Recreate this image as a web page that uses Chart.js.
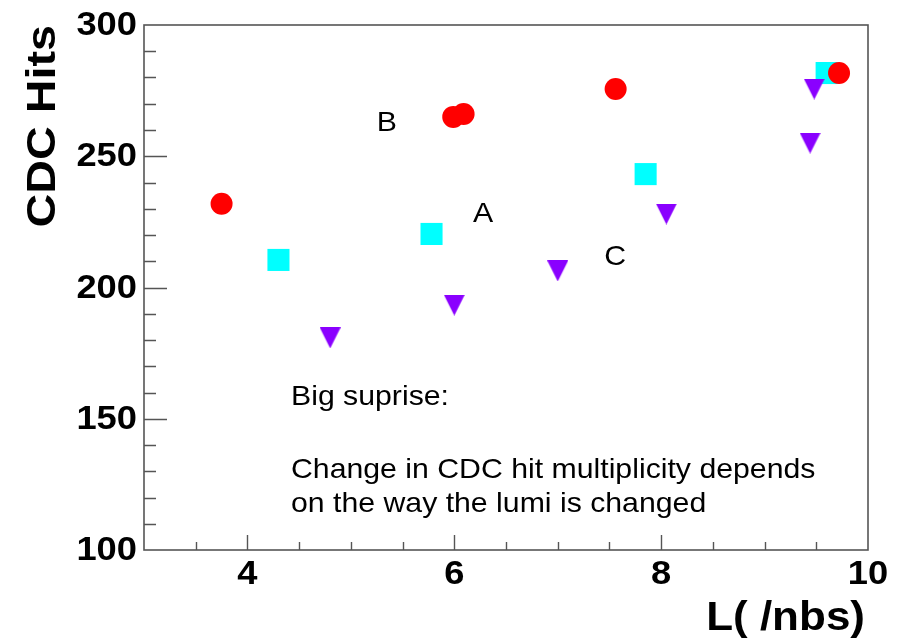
<!DOCTYPE html>
<html>
<head>
<meta charset="utf-8">
<script src="https://cdn.jsdelivr.net/npm/chart.js@4/dist/chart.umd.min.js"></script>
<style>
  html, body { margin: 0; padding: 0; background: #ffffff; }
  #wrap { width: 905px; height: 641px; }
</style>
</head>
<body>
<div id="wrap"><canvas id="c" width="905" height="641"></canvas></div>
<script>
// Luminosity (/nbs) and CDC hit counts for the three ways of changing the lumi
const lumiA = [4.30, 5.78, 7.85, 9.60];
const hitsA = [210.5, 220.4, 243.2, 281.7];

const lumiB = [3.75, 5.99, 6.09, 7.56, 9.72];
const hitsB = [231.9, 265.0, 266.1, 275.6, 281.7];

const lumiC = [4.80, 6.00, 7.00, 8.05, 9.44, 9.48];
const hitsC = [180.8, 193.3, 206.3, 228.0, 255.0, 275.6];

// Axis ranges and labelled ticks
const xRange = [3, 10];
const yRange = [100, 300];
const xMajorTicks = [4, 6, 8, 10];
const yMajorTicks = [100, 150, 200, 250, 300];
const xMinorStep = 0.5;
const yMinorStep = 10;

// Axis titles
const xTitle = 'L( /nbs)';
const yTitle = 'CDC Hits';

// Series tags placed next to their points (data coordinates of the text baseline start)
const tagText = ['A', 'B', 'C'];
const tagX = [6.18, 5.25, 7.45];
const tagY = [225.0, 259.6, 208.6];

// Note block
const noteLines = ['Big suprise:', '', 'Change in CDC hit multiplicity depends', 'on the way the lumi is changed'];

const FONT = '"Liberation Sans", Arial, Helvetica, sans-serif';
const TEXT_SX = 1.1;    // horizontal widening of axis lettering
const NOTE_SX = 1.08;   // horizontal widening of annotation lettering
const FRAME_COLOR = '#555555';

function toPoints(xs, ys) { return xs.map((x, i) => ({ x: x, y: ys[i] })); }

// Downward triangle marker, as tall as it is wide
function triangleMarker(size, color) {
  const cv = document.createElement('canvas');
  cv.width = size; cv.height = size;
  const g = cv.getContext('2d');
  g.fillStyle = color;
  g.beginPath();
  g.moveTo(0, 0);
  g.lineTo(size, 0);
  g.lineTo(size / 2, size);
  g.closePath();
  g.fill();
  return cv;
}

function drawText(ctx, text, x, y, font, align, baseline, rot, sx) {
  ctx.save();
  ctx.translate(x, y);
  if (rot) ctx.rotate(rot);
  ctx.scale(sx, 1);
  ctx.font = font;
  ctx.fillStyle = '#000000';
  ctx.textAlign = align;
  ctx.textBaseline = baseline;
  ctx.fillText(text, 0, 0);
  ctx.restore();
}

const framePlugin = {
  id: 'frameAxes',
  beforeDatasetsDraw(chart) {
    const ctx = chart.ctx;
    const a = chart.chartArea;
    const xs = chart.scales.x, ys = chart.scales.y;
    ctx.save();
    ctx.strokeStyle = FRAME_COLOR;
    ctx.lineWidth = 1.6;
    ctx.strokeRect(a.left, a.top, a.right - a.left, a.bottom - a.top);

    ctx.lineWidth = 1.4;
    ctx.beginPath();
    // x ticks along the bottom edge, pointing inward
    for (let v = xRange[0] + xMinorStep; v < xRange[1] - 1e-9; v += xMinorStep) {
      const px = Math.round(xs.getPixelForValue(v)) + 0.5;
      const major = xMajorTicks.some(t => Math.abs(t - v) < 1e-6);
      ctx.moveTo(px, a.bottom);
      ctx.lineTo(px, a.bottom - (major ? 15 : 8));
    }
    // y ticks along the left edge, pointing inward
    for (let v = yRange[0] + yMinorStep; v < yRange[1] - 1e-9; v += yMinorStep) {
      const py = Math.round(ys.getPixelForValue(v)) + 0.5;
      const major = yMajorTicks.some(t => Math.abs(t - v) < 1e-6);
      ctx.moveTo(a.left, py);
      ctx.lineTo(a.left + (major ? 23 : 12), py);
    }
    ctx.stroke();
    ctx.restore();

    const tickFont = 'bold 33px ' + FONT;
    xMajorTicks.forEach(t => {
      drawText(ctx, String(t), xs.getPixelForValue(t), a.bottom + 25, tickFont, 'center', 'middle', 0, TEXT_SX);
    });
    yMajorTicks.forEach(t => {
      drawText(ctx, String(t), a.left - 7, ys.getPixelForValue(t) + 1, tickFont, 'right', 'middle', 0, TEXT_SX);
    });

    drawText(ctx, xTitle, a.right - 3, a.bottom + 80, 'bold 40px ' + FONT, 'right', 'alphabetic', 0, TEXT_SX);
    drawText(ctx, yTitle, 55, a.top, 'bold 41px ' + FONT, 'right', 'alphabetic', -Math.PI / 2, 1.14);
  },
  afterDatasetsDraw(chart) {
    const ctx = chart.ctx;
    const xs = chart.scales.x, ys = chart.scales.y;
    const noteFont = '28px ' + FONT;
    tagText.forEach((t, i) => {
      drawText(ctx, t, xs.getPixelForValue(tagX[i]), ys.getPixelForValue(tagY[i]), noteFont, 'left', 'alphabetic', 0, NOTE_SX);
    });
    const noteLeft = 291, noteBaselines = [405, 444, 478, 512];
    noteLines.forEach((line, i) => {
      if (line) drawText(ctx, line, noteLeft, noteBaselines[i], noteFont, 'left', 'alphabetic', 0, NOTE_SX);
    });
  }
};

const chart = new Chart(document.getElementById('c'), {
  type: 'scatter',
  data: {
    datasets: [
      {
        label: 'C',
        data: toPoints(lumiC, hitsC),
        pointStyle: triangleMarker(21, '#8a00ff'),
        backgroundColor: '#8a00ff',
        borderWidth: 0
      },
      {
        label: 'B',
        data: toPoints(lumiB, hitsB),
        pointStyle: 'circle',
        pointRadius: 11,
        backgroundColor: '#ff0000',
        borderWidth: 0
      },
      {
        label: 'A',
        data: toPoints(lumiA, hitsA),
        pointStyle: 'rect',
        pointRadius: 15.6,
        backgroundColor: '#00ffff',
        borderWidth: 0
      }
    ]
  },
  options: {
    responsive: false,
    animation: false,
    devicePixelRatio: 1,
    clip: false,
    layout: { padding: { left: 144, right: 37, top: 25, bottom: 91 } },
    plugins: { legend: { display: false }, tooltip: { enabled: false } },
    elements: { point: { hoverRadius: 11 } },
    scales: {
      x: { type: 'linear', min: xRange[0], max: xRange[1], display: false },
      y: { type: 'linear', min: yRange[0], max: yRange[1], display: false }
    }
  },
  plugins: [framePlugin]
});
</script>
</body>
</html>
